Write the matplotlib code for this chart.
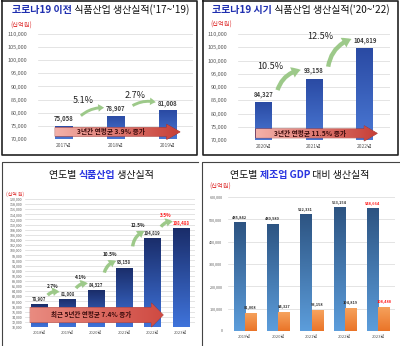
import numpy as np
import matplotlib
matplotlib.use('Agg')
import matplotlib.pyplot as plt
from matplotlib.colors import LinearSegmentedColormap
from matplotlib.patches import FancyArrow
from matplotlib.lines import Line2D
from matplotlib.ticker import FuncFormatter

plt.rcParams['font.family'] = ['Noto Sans CJK KR', 'DejaVu Sans']

# data
tl_years = ['2017년', '2018년', '2019년']
tl_values = [75058, 78907, 81008]
tl_growth = ['5.1%', '2.7%']

tr_years = ['2020년', '2021년', '2022년']
tr_values = [84327, 93158, 104819]
tr_growth = ['10.5%', '12.5%']

bl_years = ['2018년', '2019년', '2020년', '2021년', '2022년', '2023년']
bl_values = [78907, 81008, 84327, 93158, 104819, 108488]
bl_growth = ['2.7%', '4.1%', '10.5%', '12.5%', '3.5%']

br_years = ['2019년', '2020년', '2021년', '2022년', '2023년']
br_gdp = [485842, 480980, 522331, 553154, 548664]
br_food = [81008, 84327, 93158, 104819, 108488]

W, H = 400, 346
fig = plt.figure(figsize=(W / 100, H / 100), dpi=100)
fig.patch.set_facecolor('white')

RED = '#ff1a1a'
GRAY = '#595959'


def px_axes(x0, x1, ytop, ybot):
    return fig.add_axes([x0 / W, 1 - ybot / H, (x1 - x0) / W, (ybot - ytop) / H])


def grad_fill(ax, patch, extent, c0, c1, horizontal=False):
    g = np.linspace(0, 1, 64)
    g = g.reshape(1, -1) if horizontal else g.reshape(-1, 1)
    cmap = LinearSegmentedColormap.from_list('g', [c0, c1])
    im = ax.imshow(g, extent=extent, origin='lower', cmap=cmap, aspect='auto',
                   zorder=patch.get_zorder(), interpolation='bilinear')
    im.set_clip_path(patch)


def grad_bars(ax, x, heights, width, base, c_top, c_bot):
    bars = ax.bar(x, heights, width=width, color='none', zorder=2)
    for b in bars:
        bx = b.get_x()
        grad_fill(ax, b, [bx, bx + b.get_width(), base, b.get_height()], c_bot, c_top)
    return bars


def style_axes(ax, yfs, xfs, ypad, xpad):
    for s in ax.spines.values():
        s.set_visible(False)
    ax.tick_params(length=0, labelcolor=GRAY)
    ax.tick_params(axis='y', pad=ypad, labelsize=yfs)
    ax.tick_params(axis='x', pad=xpad, labelsize=xfs)
    ax.yaxis.set_major_formatter(FuncFormatter(lambda v, p: f'{int(v):,}'))
    ax.grid(axis='y', color='#d9d9d9', linewidth=0.5, zorder=0)
    ax.set_axisbelow(True)


def big_arrow(ax, x0, x1, yc, body, head, hlen, text, fs, c0='#f3b1a9', c1='#c63e36'):
    arr = FancyArrow(x0, yc, x1 - x0, 0, width=body, head_width=head, head_length=hlen,
                     length_includes_head=True, facecolor='none', edgecolor='#9c2f2a',
                     linewidth=0.5, zorder=4, clip_on=False)
    ax.add_patch(arr)
    grad_fill(ax, arr, [x0, x1, yc - head / 2, yc + head / 2], c0, c1, horizontal=True)
    ax.text((x0 + x1 - hlen) / 2, yc, text, ha='center', va='center', fontsize=fs,
            fontweight='bold', color='#3c0c0c', zorder=5)


def green_arrow(ax, start, end, scale, rad=-0.3):
    ax.annotate('', xy=end, xytext=start, zorder=3,
                arrowprops=dict(arrowstyle='simple,head_width=0.9,head_length=0.7,tail_width=0.35',
                                connectionstyle=f'arc3,rad={rad}', fc='#93c47d', ec='none',
                                mutation_scale=scale, shrinkA=0, shrinkB=0, alpha=0.9))


def multi_title(xc, y, parts, fs):
    r = fig.canvas.get_renderer()
    ts = [fig.text(0, 1 - y / H, s, color=c, fontsize=fs, fontweight=w, ha='left', va='center')
          for s, c, w in parts]
    ws = [t.get_window_extent(r).width for t in ts]
    x = xc - sum(ws) / 2
    for t, w in zip(ts, ws):
        t.set_x(x / W)
        x += w


def fig_line(xs, ys, lw=1.0, c='#222222'):
    fig.add_artist(Line2D([v / W for v in xs], [1 - v / H for v in ys], color=c, linewidth=lw))


# frames
fig_line([2, 197, 197, 2, 2], [1, 1, 155, 155, 1], lw=1.2)
fig_line([203, 398, 398, 203, 203], [1, 1, 155, 155, 1], lw=1.2)
fig_line([2, 2, 198], [346, 162, 162], lw=0.8, c='#444444')
fig_line([202, 202, 400], [346, 162, 162], lw=0.8, c='#444444')

# ---------- top left ----------
ax = px_axes(38, 193, 34, 139)
x = np.arange(len(tl_values))
grad_bars(ax, x, tl_values, 0.33, 70000, '#2a4aa3', '#4a78d4')
ax.set_xticks(x, tl_years)
ax.set_yticks(np.arange(70000, 110001, 5000))
style_axes(ax, 4, 3.6, 8, 3)
for i, v in enumerate(tl_values):
    ax.text(i, v + 2600, f'{v:,}', ha='center', va='center', fontsize=4.3,
            fontweight='bold', color='#404040')
for i, g in enumerate(tl_growth):
    ax.text(i + 0.37, tl_values[i + 1] + 5600, g, ha='center', va='center', fontsize=6.5, color='#222222')
    green_arrow(ax, (i + 0.33, tl_values[i] + 3800), (i + 0.78, tl_values[i + 1] + 3000), 6, -0.2)
big_arrow(ax, -0.17, 2.25, 72700, 3300, 5800, 0.26, '3년간 연평균 3.9% 증가', 4.8)
ax.set_xlim(-0.5, 2.5)
ax.set_ylim(70000, 110000)

# ---------- top right ----------
ax = px_axes(238, 390, 34, 140)
x = np.arange(len(tr_values))
grad_bars(ax, x, tr_values, 0.33, 70000, '#2a4aa3', '#4a78d4')
ax.set_xticks(x, tr_years)
ax.set_yticks(np.arange(70000, 110001, 5000))
style_axes(ax, 4, 3.6, 8, 3)
for i, v in enumerate(tr_values):
    ax.text(i, v + 2900, f'{v:,}', ha='center', va='center', fontsize=4.3,
            fontweight='bold', color='#404040')
for i, g in enumerate(tr_growth):
    ax.text(i + 0.13, tr_values[i + 1] + 4400, g, ha='center', va='center', fontsize=6.5, color='#222222')
    green_arrow(ax, (i + 0.28, tr_values[i] + 4500), (i + 0.74, tr_values[i + 1] + 3300), 9, -0.3)
big_arrow(ax, -0.15, 2.25, 72500, 3400, 5800, 0.26, '3년간 연평균 11.5% 증가', 4.8)
ax.set_xlim(-0.5, 2.5)
ax.set_ylim(70000, 110000)

# ---------- bottom left ----------
ax = px_axes(25, 195, 199, 327)
x = np.arange(len(bl_values))
grad_bars(ax, x, bl_values, 0.57, 70000, '#1a2d6a', '#3f73da')
ax.set_xticks(x, bl_years)
ax.set_yticks(np.arange(70000, 120001, 2000))
style_axes(ax, 2.6, 3.0, 2, 3)
for i, v in enumerate(bl_values):
    c = RED if i == len(bl_values) - 1 else '#333333'
    ax.text(i, v + 1900, f'{v:,}', ha='center', va='center', fontsize=3.1,
            fontweight='bold', color=c)
for i, g in enumerate(bl_growth):
    c = RED if i == len(bl_growth) - 1 else '#222222'
    ax.text(i + 0.48, bl_values[i + 1] + 5000, g, ha='center', va='center', fontsize=3.4,
            fontweight='bold', color=c)
    green_arrow(ax, (i + 0.3, bl_values[i] + (bl_values[i + 1] - bl_values[i]) / 2 + 2500),
                (i + 0.72, bl_values[i + 1] + 2600), 7, -0.3)
big_arrow(ax, -0.32, 4.38, 74700, 5900, 9400, 0.42, '최근 5년간 연평균 7.4% 증가', 4.7,
          c0='#e98b80', c1='#cf4a42')
ax.set_xlim(-0.5, 5.5)
ax.set_ylim(70000, 120000)

# ---------- bottom right ----------
ax = px_axes(228, 395, 197, 331)
x = np.arange(len(br_gdp))
grad_bars(ax, x - 0.17, br_gdp, 0.33, 0, '#2d5482', '#5c9ddb')
grad_bars(ax, x + 0.17, br_food, 0.33, 0, '#f6a35e', '#ea7428')
ax.set_xticks(x, br_years)
ax.set_yticks(np.arange(0, 600001, 100000))
style_axes(ax, 2.7, 3.0, 4, 3)
for i in range(len(br_gdp)):
    c = RED if i == len(br_gdp) - 1 else '#333333'
    ax.text(i - 0.17, br_gdp[i] + 22000, f'{br_gdp[i]:,}', ha='center', va='center',
            fontsize=2.8, fontweight='bold', color=c)
    ax.text(i + 0.17, br_food[i] + 26000, f'{br_food[i]:,}', ha='center', va='center',
            fontsize=2.8, fontweight='bold', color=c)
ax.set_xlim(-0.5, 4.5)
ax.set_ylim(0, 600000)

# titles
multi_title(101, 10, [('코로나19 이전', '#1f2fb0', 'bold'), (' 식품산업 생산실적(\'17~\'19)', '#111111', 'medium')], 7.2)
multi_title(301, 10, [('코로나19 시기', '#1f2fb0', 'bold'), (' 식품산업 생산실적(\'20~\'22)', '#111111', 'medium')], 7.2)
multi_title(101, 175, [('연도별 ', '#111111', 'medium'), ('식품산업', '#2a35e0', 'bold'), (' 생산실적', '#111111', 'medium')], 7.2)
multi_title(300, 175, [('연도별 ', '#111111', 'medium'), ('제조업 GDP', '#2a35e0', 'bold'), (' 대비 생산실적', '#111111', 'medium')], 7.2)

# unit labels
fig.text(10 / W, 1 - 26 / H, '(십억원)', color='#e03a3a', fontsize=4.5, va='center')
fig.text(210 / W, 1 - 25 / H, '(십억원)', color='#e03a3a', fontsize=4.5, va='center')
fig.text(6 / W, 1 - 194 / H, '(십억 원)', color='#e03a3a', fontsize=3.5, va='center')
fig.text(209 / W, 1 - 187 / H, '(십억원)', color='#e03a3a', fontsize=4.5, va='center')

fig.savefig('out.png', dpi=100, facecolor='white')
